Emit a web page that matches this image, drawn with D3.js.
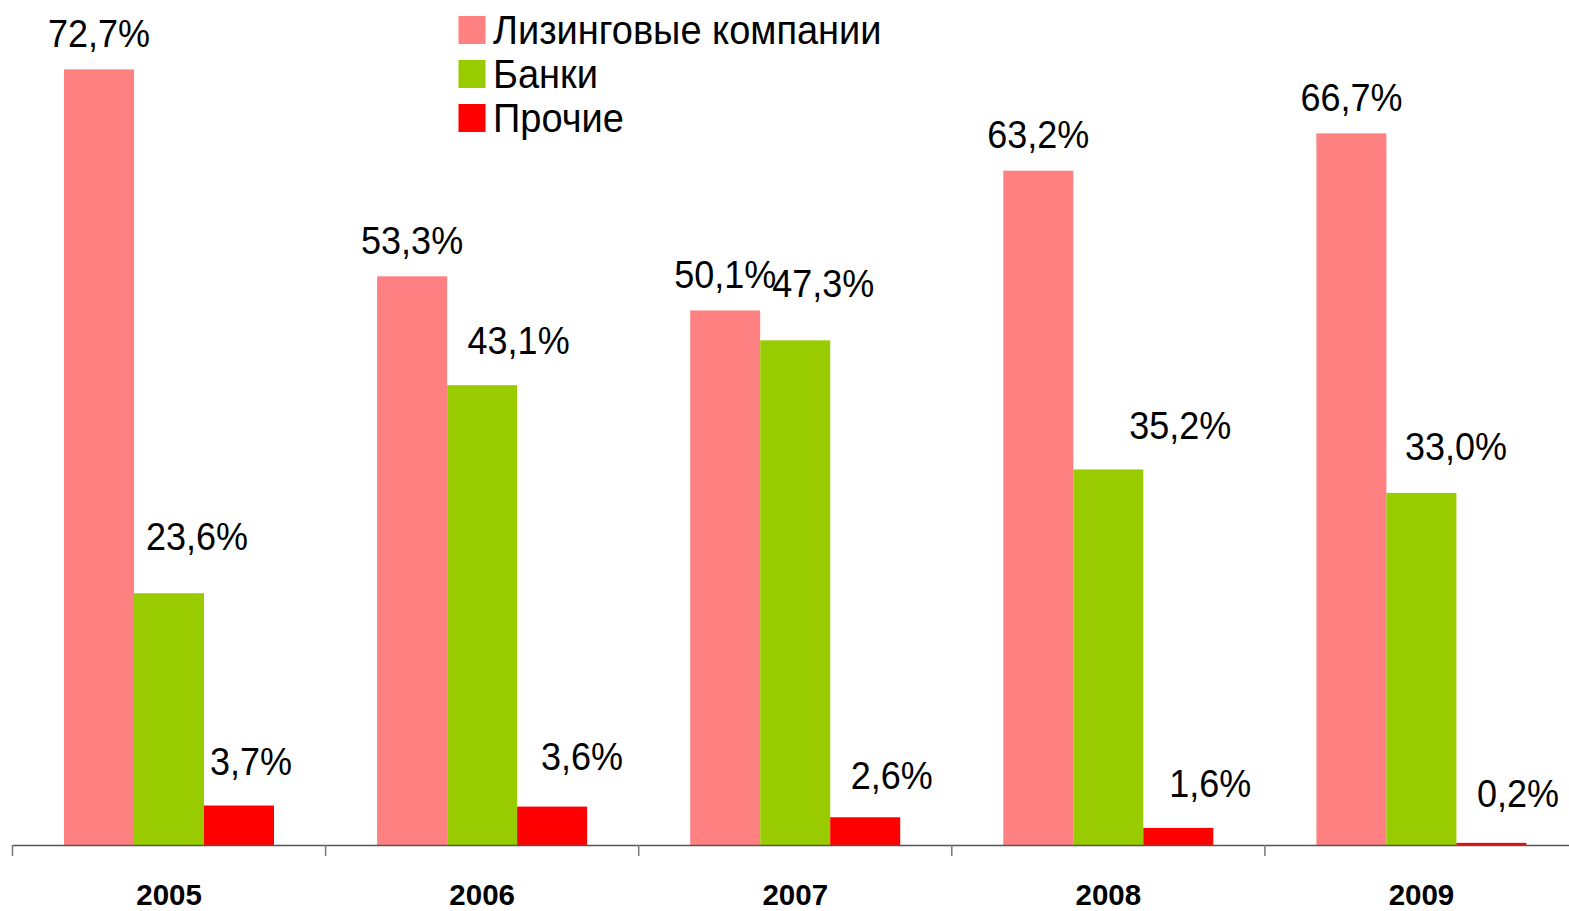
<!DOCTYPE html>
<html>
<head>
<meta charset="utf-8">
<script src="https://cdn.jsdelivr.net/npm/d3@7"></script>
<style>
  html, body { margin: 0; padding: 0; background: #fff; }
  svg { display: block; }
  text { font-family: "Liberation Sans", Arial, sans-serif; fill: #000; }
</style>
</head>
<body>
<svg id="chart" width="1569" height="911"></svg>
<script>
// ---- Data ----
const categories = ["2005", "2006", "2007", "2008", "2009"];
const seriesNames = ["Лизинговые компании", "Банки", "Прочие"];
const leasing = [72.7, 53.3, 50.1, 63.2, 66.7];
const banks   = [23.6, 43.1, 47.3, 35.2, 33.0];
const others  = [3.7, 3.6, 2.6, 1.6, 0.2];
const seriesValues = [leasing, banks, others];
const colors = ["#FF8080", "#99CC00", "#FF0000"];

// label placement offsets (px) relative to bar centre / bar top, as placed in the original
const labelDx  = [[0, 0, 0, 0, 0], [28, 36.5, 28, 72, 34.5], [12, 30, 26.5, 32, 26.5]];
const labelGap = [[22.5, 22.5, 22.5, 22.5, 22.5], [43, 31, 43, 30, 33], [31, 37, 28, 31, 36]];

const fmt = v => d3.format(".1f")(v).replace(".", ",") + "%";

const svg = d3.select("#chart");
const baseY = 845;

const x0 = d3.scaleBand().domain(categories).range([12.5, 1578]).padding(0);
const x1 = d3.scaleBand().domain(d3.range(seriesNames.length)).range([51.5, 261.5]).padding(0);
const y = d3.scaleLinear().domain([0, 79.2]).range([baseY, 0]);

// bars
const groups = svg.append("g").selectAll("g")
  .data(categories)
  .join("g")
  .attr("transform", d => `translate(${x0(d)},0)`);

groups.selectAll("rect")
  .data((d, i) => seriesValues.map((vals, s) => ({ s, i, v: vals[i] })))
  .join("rect")
  .attr("x", d => x1(d.s))
  .attr("width", x1.bandwidth())
  .attr("y", d => y(d.v))
  .attr("height", d => y(0) - y(d.v))
  .attr("fill", d => colors[d.s]);

// data labels
groups.selectAll("text.lbl")
  .data((d, i) => seriesValues.map((vals, s) => ({ s, i, v: vals[i] })))
  .join("text")
  .attr("class", "lbl")
  .attr("text-anchor", "middle")
  .attr("font-size", 36)
  .attr("transform", d => `translate(${x1(d.s) + x1.bandwidth() / 2 + labelDx[d.s][d.i]},${y(d.v) - labelGap[d.s][d.i]}) scale(1,1.08)`)
  .text(d => fmt(d.v));

// x axis
const axis = svg.append("g");
axis.append("line")
  .attr("x1", x0.range()[0]).attr("x2", 1569)
  .attr("y1", baseY + 0.5).attr("y2", baseY + 0.5)
  .attr("stroke", "#555").attr("stroke-width", 1.6);
axis.selectAll("line.tick")
  .data(categories)
  .join("line")
  .attr("class", "tick")
  .attr("x1", d => x0(d)).attr("x2", d => x0(d))
  .attr("y1", baseY).attr("y2", baseY + 11)
  .attr("stroke", "#777").attr("stroke-width", 1.5);
axis.selectAll("text")
  .data(categories)
  .join("text")
  .attr("text-anchor", "middle")
  .attr("font-size", 29.5)
  .attr("font-weight", "bold")
  .attr("x", d => x0(d) + x0.bandwidth() / 2)
  .attr("y", 904.5)
  .text(d => d);

// legend
const legend = svg.append("g").attr("transform", "translate(458.5,0)");
const legItems = legend.selectAll("g")
  .data(seriesNames)
  .join("g")
  .attr("transform", (d, i) => `translate(0,${44 + i * 44})`);
legItems.append("rect")
  .attr("x", 0).attr("y", -28)
  .attr("width", 27).attr("height", 28)
  .attr("fill", (d, i) => colors[i]);
legItems.append("text")
  .attr("font-size", 38)
  .attr("transform", "translate(34.5,0) scale(1,1.07)")
  .text(d => d);
</script>
</body>
</html>
